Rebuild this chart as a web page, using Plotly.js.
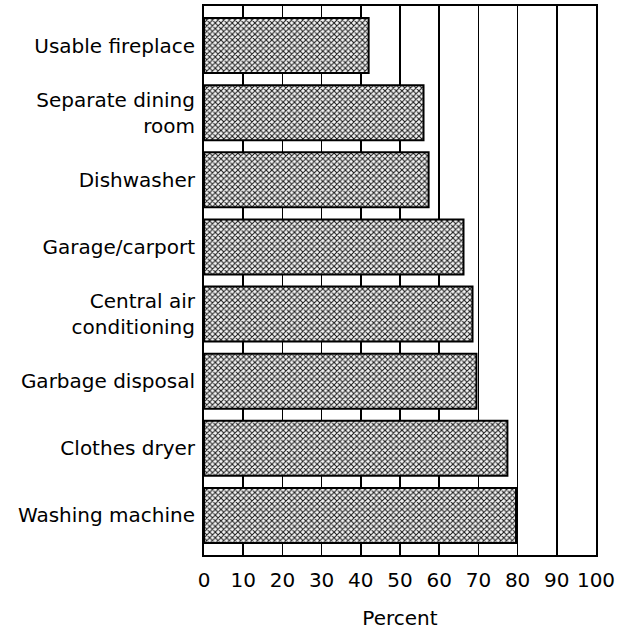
<!DOCTYPE html>
<html>
<head>
<meta charset="utf-8">
<script src="https://cdn.plot.ly/plotly-3.0.1.min.js"></script>
<style>html,body{margin:0;padding:0;background:#fff;}#chart{width:636px;height:636px;}</style>
</head>
<body>
<div id="chart"></div>
<script>
const categories = [
  "Usable fireplace",
  "Separate dining<br>room",
  "Dishwasher",
  "Garage/carport",
  "Central air<br>conditioning",
  "Garbage disposal",
  "Clothes dryer",
  "Washing machine"
];
const percentValues = [42, 56, 57.3, 66.2, 68.5, 69.5, 77.4, 79.6];
const xTickValues = [0, 10, 20, 30, 40, 50, 60, 70, 80, 90, 100];
const xTickLabels = ["0", "10", "20", "30", "40", "50", "60", "70", "80", "90", "100"];

const positions = categories.map((c, i) => i);

const trace = {
  type: "bar",
  orientation: "h",
  x: percentValues,
  y: positions,
  width: 0.82,
  marker: {
    color: "#ffffff",
    line: { color: "#000000", width: 2 },
    pattern: { shape: "x", size: 4, solidity: 0.45, fgcolor: "#1a1a1a", bgcolor: "#f4f4f4" }
  },
  hoverinfo: "x"
};

const font = { family: "DejaVu Sans, Arial, sans-serif", size: 20, color: "#000" };

const layout = {
  width: 636,
  height: 636,
  margin: { l: 204, r: 40, t: 6, b: 81 },
  paper_bgcolor: "#ffffff",
  plot_bgcolor: "#ffffff",
  showlegend: false,
  font: font,
  xaxis: {
    range: [0, 100],
    tickvals: xTickValues,
    ticktext: xTickLabels,
    showgrid: true,
    gridcolor: "#000000",
    gridwidth: 1.6,
    zeroline: false,
    showline: true,
    mirror: true,
    linecolor: "#000000",
    linewidth: 2,
    ticks: "outside",
    ticklen: 6,
    tickcolor: "rgba(0,0,0,0)",
    tickfont: font,
    title: { text: "Percent", font: font, standoff: 20 },
    fixedrange: true
  },
  yaxis: {
    range: [7.59, -0.59],
    tickvals: positions,
    ticktext: categories,
    showgrid: false,
    zeroline: false,
    showline: true,
    mirror: true,
    linecolor: "#000000",
    linewidth: 2,
    ticks: "outside",
    ticklen: 3,
    tickcolor: "rgba(0,0,0,0)",
    tickfont: font,
    fixedrange: true
  }
};

Plotly.newPlot("chart", [trace], layout, { displayModeBar: false, staticPlot: true });
</script>
</body>
</html>
